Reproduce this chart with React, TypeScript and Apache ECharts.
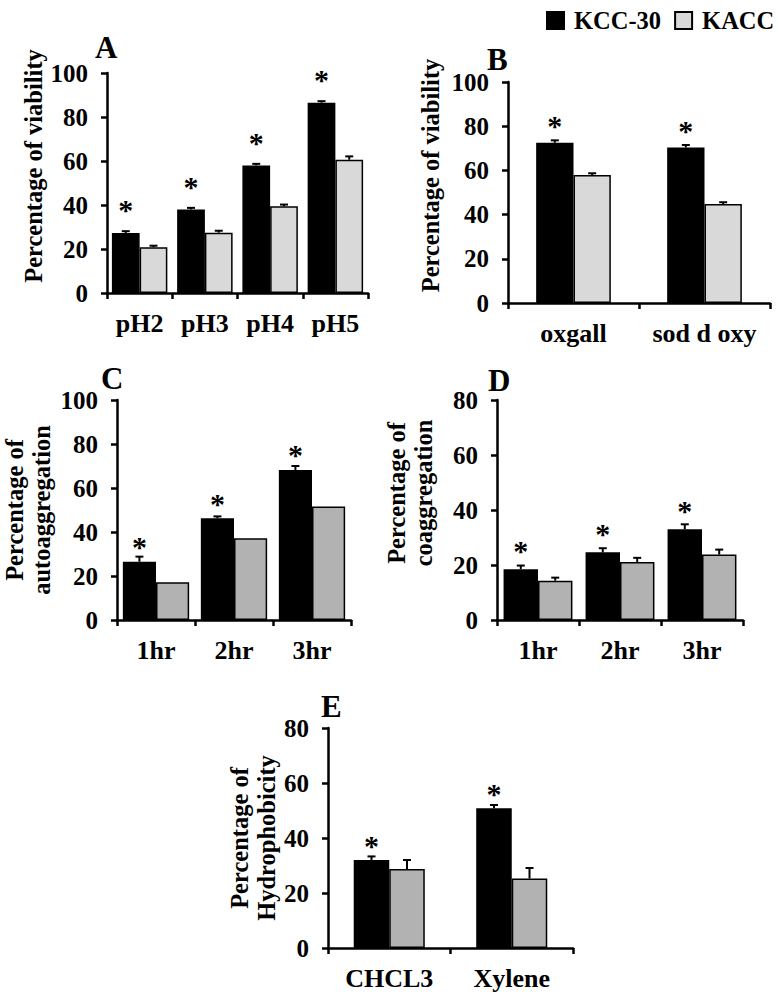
import React, { useEffect, useRef } from "react";
import * as echarts from "echarts";

const FONT = "'Liberation Serif', 'Times New Roman', serif";

// Panel A
const catsA = ["pH2", "pH3", "pH4", "pH5"];
const kccA = [27.3, 38.0, 58.0, 86.5];
const kccErrA = [0.8, 0.7, 0.7, 0.7];
const kaccA = [20.8, 27.4, 39.4, 60.6];
const kaccErrA = [0.7, 0.9, 0.8, 1.5];

// Panel B
const catsB = ["oxgall", "sod d oxy"];
const kccB = [72.5, 70.4];
const kccErrB = [1.1, 1.1];
const kaccB = [57.9, 44.8];
const kaccErrB = [0.8, 0.8];

// Panel C
const catsC = ["1hr", "2hr", "3hr"];
const kccC = [26.5, 46.3, 68.2];
const kccErrC = [2.3, 0.8, 1.8];
const kaccC = [17.2, 37.2, 51.6];
const kaccErrC = [0, 0, 0];

// Panel D
const catsD = ["1hr", "2hr", "3hr"];
const kccD = [18.5, 24.6, 33.0];
const kccErrD = [1.3, 1.5, 1.8];
const kaccD = [14.3, 21.1, 23.8];
const kaccErrD = [1.1, 1.5, 1.8];

// Panel E
const catsE = ["CHCL3", "Xylene"];
const kccE = [32.0, 50.8];
const kccErrE = [1.3, 1.2];
const kaccE = [28.7, 25.3];
const kaccErrE = [3.3, 3.8];

const yTicksAC = [0, 20, 40, 60, 80, 100];
const yTicksDE = [0, 20, 40, 60, 80];

export default function App() {
  const ref = useRef<HTMLDivElement>(null);
  useEffect(() => {
    if (!ref.current) return;
    const chart = echarts.init(ref.current, null, { renderer: "svg" });

    const panels = [
      { cats: catsA, k: kccA, ke: kccErrA, a: kaccA, ae: kaccErrA, grid: { left: 107, top: 73, width: 261, height: 220 }, max: yTicksAC[yTicksAC.length - 1], gap: 0.15, gray: "#d9d9d9", name: "Percentage of viability", nameGap: 58, shift: 34, star: 8 },
      { cats: catsB, k: kccB, ke: kccErrB, a: kaccB, ae: kaccErrB, grid: { left: 508, top: 82, width: 262, height: 221 }, max: yTicksAC[yTicksAC.length - 1], gap: 0.43, gray: "#d9d9d9", name: "Percentage of viability", nameGap: 64, shift: 34, star: 2 },
      { cats: catsC, k: kccC, ke: kccErrC, a: kaccC, ae: kaccErrC, grid: { left: 117, top: 400, width: 234, height: 220 }, max: yTicksAC[yTicksAC.length - 1], gap: 0.15, gray: "#b2b2b2", name: "Percentage of\nautoaggregation", nameGap: 62, shift: 0, star: 0 },
      { cats: catsD, k: kccD, ke: kccErrD, a: kaccD, ae: kaccErrD, grid: { left: 497, top: 400, width: 246, height: 220 }, max: yTicksDE[yTicksDE.length - 1], gap: 0.16, gray: "#b2b2b2", name: "Percentage of\ncoaggregation", nameGap: 60, shift: 34, star: 4 },
      { cats: catsE, k: kccE, ke: kccErrE, a: kaccE, ae: kaccErrE, grid: { left: 328, top: 728, width: 245, height: 220 }, max: yTicksDE[yTicksDE.length - 1], gap: 0.42, gray: "#b2b2b2", name: "Percentage of\nHydrophobicity", nameGap: 48, shift: 0, star: 0 },
    ];

    const axisLine = { show: true, lineStyle: { color: "#000", width: 2.5 } };
    const labelStyle = { color: "#000", fontFamily: FONT, fontWeight: "bold" as const, fontSize: 25 };

    const grids: any[] = [];
    const xAxes: any[] = [];
    const yAxes: any[] = [];
    const series: any[] = [];

    panels.forEach((p, i) => {
      grids.push({ ...p.grid, containLabel: false });
      xAxes.push({
        type: "category",
        gridIndex: i,
        data: p.cats,
        boundaryGap: true,
        axisLine,
        axisTick: { show: true, alignWithLabel: false, length: 6, lineStyle: { color: "#000", width: 2.5 } },
        axisLabel: { ...labelStyle, fontSize: 26, margin: 17, interval: 0 },
        splitLine: { show: false },
      });
      yAxes.push({
        type: "value",
        gridIndex: i,
        min: 0,
        max: p.max,
        interval: 20,
        axisLine,
        axisTick: { show: true, length: 6, lineStyle: { color: "#000", width: 2.5 } },
        axisLabel: { ...labelStyle, margin: 19 },
        splitLine: { show: false },
        name: p.name,
        nameLocation: "middle",
        nameRotate: 90,
        nameGap: p.nameGap,
        nameTextStyle: { ...labelStyle, fontSize: 24.5, lineHeight: 27, padding: [0, 0, 0, p.shift] },
      });
      series.push({
        name: "KCC-30",
        type: "bar",
        xAxisIndex: i,
        yAxisIndex: i,
        data: p.k,
        barGap: "0%",
        barCategoryGap: `${Math.round(p.gap * 100)}%`,
        itemStyle: { color: "#000", borderColor: "#000", borderWidth: 1.5 },
        label: {
          show: true,
          position: "top",
          distance: p.star,
          formatter: "*",
          color: "#000",
          fontFamily: FONT,
          fontWeight: "bold",
          fontSize: 30,
        },
        z: 2,
      });
      series.push({
        name: "KACC",
        type: "bar",
        xAxisIndex: i,
        yAxisIndex: i,
        data: p.a,
        barGap: "0%",
        barCategoryGap: `${Math.round(p.gap * 100)}%`,
        itemStyle: { color: p.gray, borderColor: "#000", borderWidth: 1.5 },
        z: 2,
      });
      const errData = p.k.map((v, j) => [j, v, p.ke[j], 0]).concat(p.a.map((v, j) => [j, v, p.ae[j], 1]));
      const gap = p.gap;
      series.push({
        name: "err" + i,
        type: "custom",
        xAxisIndex: i,
        yAxisIndex: i,
        data: errData,
        z: 3,
        silent: true,
        renderItem: (params: any, api: any) => {
          const idx = api.value(0);
          const v = api.value(1);
          const e = api.value(2);
          const s = api.value(3);
          if (!e) return null;
          const base = api.coord([idx, v]);
          const top = api.coord([idx, v + e]);
          const band = api.size([1, 0])[0];
          const bw = (band * (1 - gap)) / 2;
          const x = base[0] + (s === 0 ? -bw / 2 : bw / 2);
          return {
            type: "group",
            children: [
              { type: "line", shape: { x1: x, y1: base[1], x2: x, y2: top[1] }, style: { stroke: "#000", lineWidth: 2 } },
              { type: "line", shape: { x1: x - 4, y1: top[1], x2: x + 4, y2: top[1] }, style: { stroke: "#000", lineWidth: 2 } },
            ],
          };
        },
      });
    });

    const letter = (t: string, x: number, y: number) => ({
      type: "text",
      left: x,
      top: y,
      style: { text: t, fill: "#000", font: `bold 31px ${FONT}` },
    });

    chart.setOption({
      animation: false,
      backgroundColor: "#fff",
      legend: {
        data: ["KCC-30", "KACC"],
        orient: "horizontal",
        left: 541,
        top: 3,
        width: 600,
        icon: "rect",
        itemWidth: 17,
        itemHeight: 17,
        itemGap: 13,
        textStyle: { ...labelStyle, fontSize: 24.5, padding: [0, 0, 0, 5] },
        selectedMode: false,
      },
      grid: grids,
      xAxis: xAxes,
      yAxis: yAxes,
      series,
      graphic: [
        letter("A", 95, 32),
        letter("B", 487, 44),
        letter("C", 101, 363),
        letter("D", 488, 365),
        letter("E", 321, 691),
      ],
    });
    return () => chart.dispose();
  }, []);
  return <div ref={ref} style={{ position: "absolute", left: 0, top: 0, width: 779, height: 1002 }} />;
}
